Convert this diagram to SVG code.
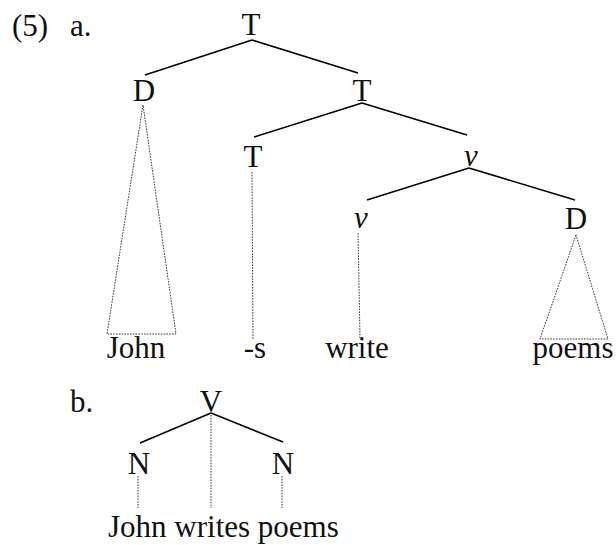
<svg xmlns="http://www.w3.org/2000/svg" width="616" height="545" viewBox="0 0 616 545">
  <style>
    text { font-family: "Liberation Serif", "Times New Roman", serif; font-size: 31px; fill: #111; }
    .c { text-anchor: middle; }
    .it { font-style: italic; }
    .branch { stroke: #000; stroke-width: 1.6; fill: none; stroke-linecap: butt; }
    .dot { stroke: #222; stroke-width: 0.9; fill: none; stroke-dasharray: 1.6 1.2; }
  </style>
  <rect width="616" height="545" fill="#fff"/>

  <!-- example labels -->
  <g id="labels">
    <text x="12" y="36">(5)</text>
    <text x="70" y="36">a.</text>
    <text x="70" y="412">b.</text>
  </g>

  <!-- tree (a) nodes -->
  <g id="a-T-root"><text class="c" x="251" y="35">T</text></g>
  <g id="a-D"><text class="c" x="144" y="101">D</text></g>
  <g id="a-T-bar"><text class="c" x="362" y="101">T</text></g>
  <g id="a-T-head"><text class="c" x="253" y="167">T</text></g>
  <g id="a-v-bar"><text class="c it" x="471" y="166">v</text></g>
  <g id="a-v-head"><text class="c it" x="361" y="228">v</text></g>
  <g id="a-D-obj"><text class="c" x="576" y="229">D</text></g>
  <g id="a-john"><text class="c" x="136" y="358">John</text></g>
  <g id="a-s"><text class="c" x="255" y="358">-s</text></g>
  <g id="a-write"><text class="c" x="357" y="358">write</text></g>
  <g id="a-poems"><text class="c" x="573" y="358">poems</text></g>

  <!-- tree (b) nodes -->
  <g id="b-V"><text class="c" x="211" y="412">V</text></g>
  <g id="b-N1"><text class="c" x="139" y="474">N</text></g>
  <g id="b-N2"><text class="c" x="283" y="474">N</text></g>
  <g id="b-string"><text x="108" y="537">John writes poems</text></g>

  <!-- connectors -->
  <g id="connectors">
    <g class="branch">
      <line x1="252" y1="40" x2="145" y2="75"/>
      <line x1="252" y1="40" x2="358" y2="73"/>
      <line x1="362" y1="103" x2="254" y2="137"/>
      <line x1="362" y1="103" x2="467" y2="135"/>
      <line x1="469" y1="168" x2="367" y2="200"/>
      <line x1="469" y1="168" x2="575" y2="200"/>
      <line x1="211" y1="413" x2="140" y2="443"/>
      <line x1="211" y1="413" x2="283" y2="442"/>
    </g>
    <g class="dot">
      <polygon points="143,105 107,334 176,334"/>
      <line x1="252" y1="172" x2="253" y2="339"/>
      <line x1="358" y1="233" x2="360" y2="338"/>
      <polygon points="576,235 540,339 608,339"/>
      <line x1="211" y1="415" x2="211" y2="508"/>
      <line x1="138" y1="476" x2="138" y2="508"/>
      <line x1="282" y1="476" x2="282" y2="508"/>
    </g>
  </g>
</svg>
